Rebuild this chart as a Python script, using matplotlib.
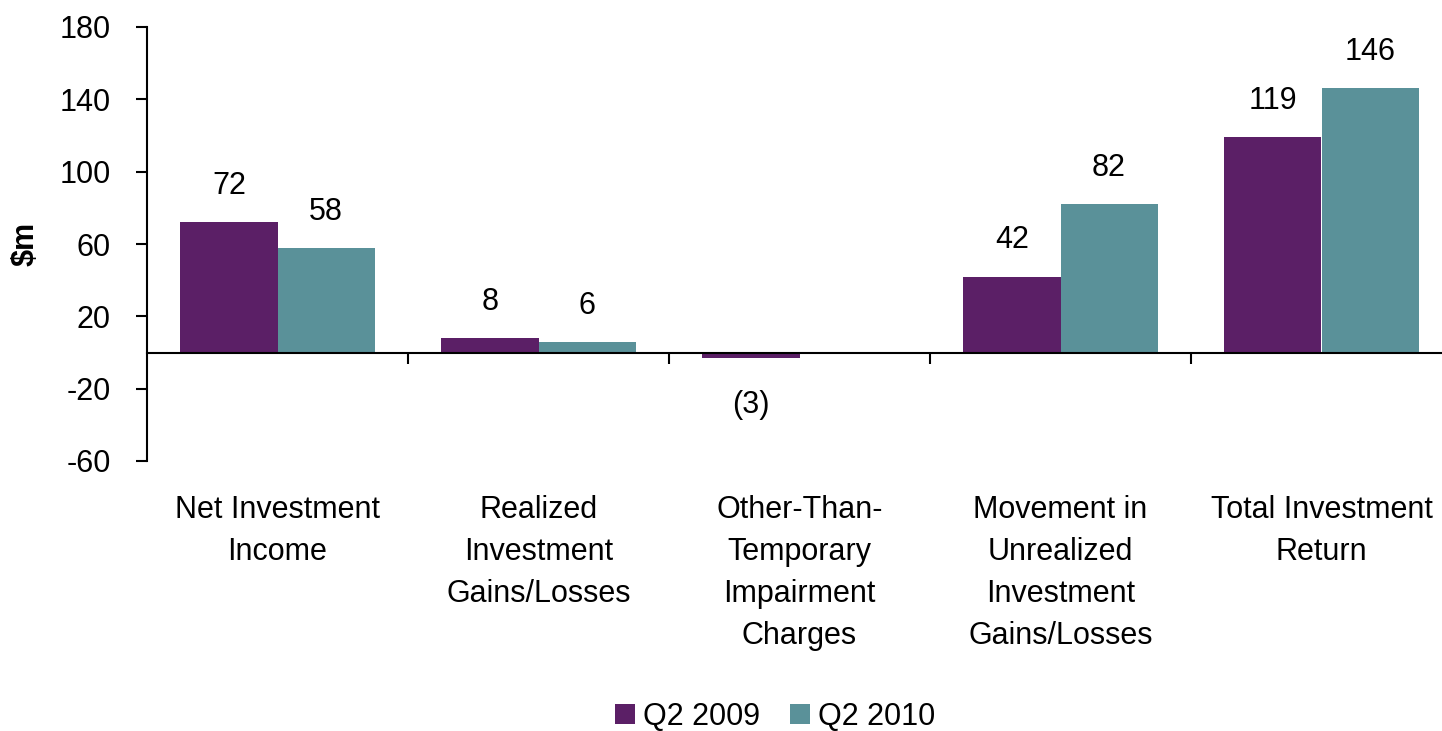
import matplotlib
matplotlib.use("Agg")
import matplotlib.pyplot as plt
import numpy as np

categories = ["Net Investment\nIncome", "Realized\nInvestment\nGains/Losses",
              "Other-Than-\nTemporary\nImpairment\nCharges",
              "Movement in\nUnrealized\nInvestment\nGains/Losses",
              "Total Investment\nReturn"]
q2_2009 = [72, 8, -3, 42, 119]
q2_2010 = [58, 6, 0, 82, 146]
labels_2009 = ["72", "8", "(3)", "42", "119"]
labels_2010 = ["58", "6", "", "82", "146"]
series_names = ["Q2 2009", "Q2 2010"]
yticks = [-60, -20, 20, 60, 100, 140, 180]

plt.rcParams['font.family'] = ['Liberation Sans', 'DejaVu Sans']
plt.rcParams['axes.unicode_minus'] = False
c1 = "#5B1F66"
c2 = "#5A9199"
FS = 22

fig = plt.figure(figsize=(14.42, 7.31), dpi=100)
ax = fig.add_axes([147/1442, 1-461/731, 1305/1442, 434/731])

x = np.arange(len(categories))
w = 0.372
b1 = ax.bar(x - w/2, q2_2009, w, color=c1, label=series_names[0], zorder=2)
b2 = ax.bar(x + w/2, q2_2010, w, color=c2, label=series_names[1], zorder=2)

for xi, v, lab in zip(x - w/2, q2_2009, labels_2009):
    if lab:
        if v >= 0:
            ax.annotate(lab, (xi, v), xytext=(0, 26), textcoords='offset points',
                        ha='center', va='center', fontsize=FS)
        else:
            ax.annotate(lab, (xi, v), xytext=(0, -34), textcoords='offset points',
                        ha='center', va='center', fontsize=FS)
for xi, v, lab in zip(x + w/2, q2_2010, labels_2010):
    if lab:
        ax.annotate(lab, (xi, v), xytext=(0, 26), textcoords='offset points',
                    ha='center', va='center', fontsize=FS)

ax.set_xlim(-0.5, 4.5)
ax.set_ylim(-60, 180)
ax.set_yticks(yticks)
ax.tick_params(axis='y', labelsize=FS, length=8, width=1.5, pad=18, direction='out')

for s in ['top', 'right']:
    ax.spines[s].set_visible(False)
ax.spines['bottom'].set_position(('data', 0))
ax.spines['bottom'].set_linewidth(1.5)
ax.spines['left'].set_linewidth(1.5)
ax.spines['bottom'].set_zorder(3)

ax.set_xticks([0.5, 1.5, 2.5, 3.5])
ax.set_xticklabels([])
ax.tick_params(axis='x', length=8, width=1.5, direction='out')

for xi, cat in zip(x, categories):
    ax.text(xi, -79, cat, transform=ax.transData, ha='center', va='top',
            fontsize=FS, linespacing=1.52, clip_on=False)

ax.set_ylabel("$m", fontsize=FS, fontweight='bold', labelpad=14)

fig.legend(handles=[b1, b2], labels=series_names, loc='center',
           bbox_to_anchor=(775/1442, 1-717/731), ncol=2, frameon=False,
           fontsize=FS, handlelength=0.65, handleheight=0.65, handletextpad=0.25,
           columnspacing=1.0)

fig.savefig("out.png", dpi=100)
